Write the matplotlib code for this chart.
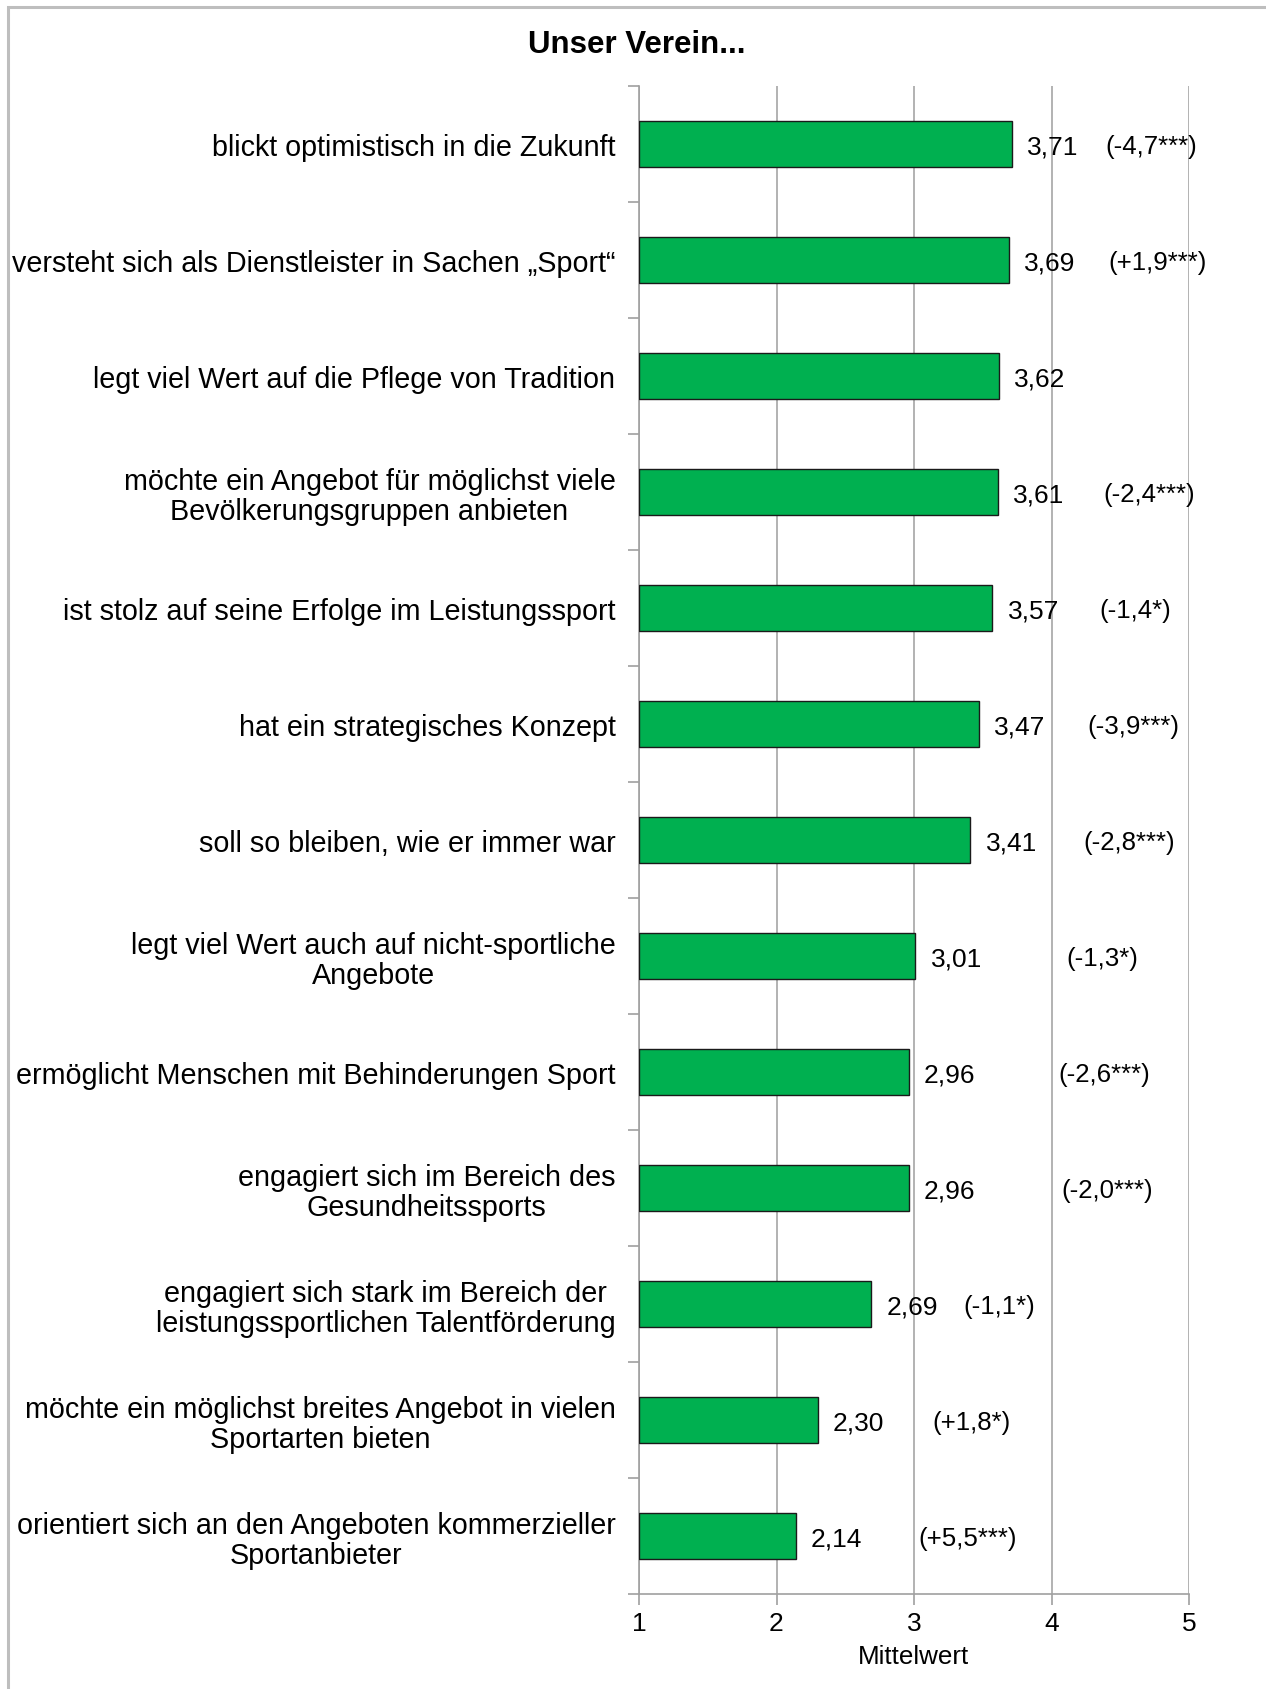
import matplotlib
matplotlib.use("Agg")
import matplotlib.pyplot as plt
import matplotlib.patches as patches
import numpy as np

plt.rcParams['font.family'] = ['Liberation Sans', 'DejaVu Sans']

# Daten
labels = [
    "blickt optimistisch in die Zukunft",
    "versteht sich als Dienstleister in Sachen „Sport“",
    "legt viel Wert auf die Pflege von Tradition",
    "möchte ein Angebot für möglichst viele\nBevölkerungsgruppen anbieten",
    "ist stolz auf seine Erfolge im Leistungssport",
    "hat ein strategisches Konzept",
    "soll so bleiben, wie er immer war",
    "legt viel Wert auch auf nicht-sportliche\nAngebote",
    "ermöglicht Menschen mit Behinderungen Sport",
    "engagiert sich im Bereich des\nGesundheitssports",
    "engagiert sich stark im Bereich der\nleistungssportlichen Talentförderung",
    "möchte ein möglichst breites Angebot in vielen\nSportarten bieten",
    "orientiert sich an den Angeboten kommerzieller\nSportanbieter",
]
values = [3.71, 3.69, 3.62, 3.61, 3.57, 3.47, 3.41, 3.01, 2.96, 2.96, 2.69, 2.30, 2.14]
changes = ["(-4,7***)", "(+1,9***)", "", "(-2,4***)", "(-1,4*)", "(-3,9***)", "(-2,8***)",
           "(-1,3*)", "(-2,6***)", "(-2,0***)", "(-1,1*)", "(+1,8*)", "(+5,5***)"]

# Lage der Klammerwerte (x in Achsenwerten)
note_x = [4.39, 4.41, 0, 4.38, 4.35, 4.26, 4.23, 4.11, 4.05, 4.07, 3.36, 3.13, 3.03]

W, H = 1266, 1690
fig = plt.figure(figsize=(W / 100, H / 100), dpi=100)
ax = fig.add_axes([639 / W, (H - 1595) / H, (1189 - 639) / W, (1595 - 87) / H])

y = np.arange(len(labels))
ax.barh(y, np.array(values) - 1, left=1, height=0.4, color="#00B050",
        edgecolor="#1a1a1a", linewidth=1.0, zorder=3)

for i, v in enumerate(values):
    ax.text(v + 0.11, i + 0.02, f"{v:.2f}".replace(".", ","), ha="left", va="center",
            fontsize=19, color="black", zorder=4)
    if changes[i]:
        ax.text(note_x[i], i + 0.02, changes[i], ha="left", va="center",
                fontsize=18.6, color="black", zorder=4)

ax.set_xlim(1, 5)
ax.set_ylim(len(labels) - 0.5, -0.5)
ax.set_xticks([1, 2, 3, 4, 5])
ax.set_xticklabels(["1", "2", "3", "4", "5"], fontsize=19)
ax.set_yticks(y)
ax.set_yticklabels(labels, fontsize=20.7)
for t in ax.get_yticklabels():
    t.set_multialignment("center")
    t.set_linespacing(1.1)
ax.set_yticks(np.arange(-0.5, len(labels)), minor=True)
ax.tick_params(axis="y", which="major", length=0, pad=17)
ax.tick_params(axis="y", which="minor", length=8, width=1.2, color="#A0A0A0")
ax.tick_params(axis="x", length=8, width=1.2, color="#A0A0A0", pad=4.5)

ax.grid(axis="x", color="#A6A6A6", linewidth=1.2, zorder=0)
for s in ["top", "right"]:
    ax.spines[s].set_visible(False)
for s in ["left", "bottom"]:
    ax.spines[s].set_color("#A0A0A0")
    ax.spines[s].set_linewidth(1.2)

ax.set_xlabel("Mittelwert", fontsize=18.7, labelpad=6)

fig.text(0.503, 1 - 45 / H, "Unser Verein...", ha="center", va="center",
         fontsize=22.5, fontweight="bold")

# grauer Rahmen
fig.patches.append(patches.Rectangle((8 / W, -0.05), 1.1, 1.05 - 8 / H,
                                     transform=fig.transFigure, fill=False,
                                     edgecolor="#BEBEBE", linewidth=2.2))

fig.savefig("out.png", dpi=100)
